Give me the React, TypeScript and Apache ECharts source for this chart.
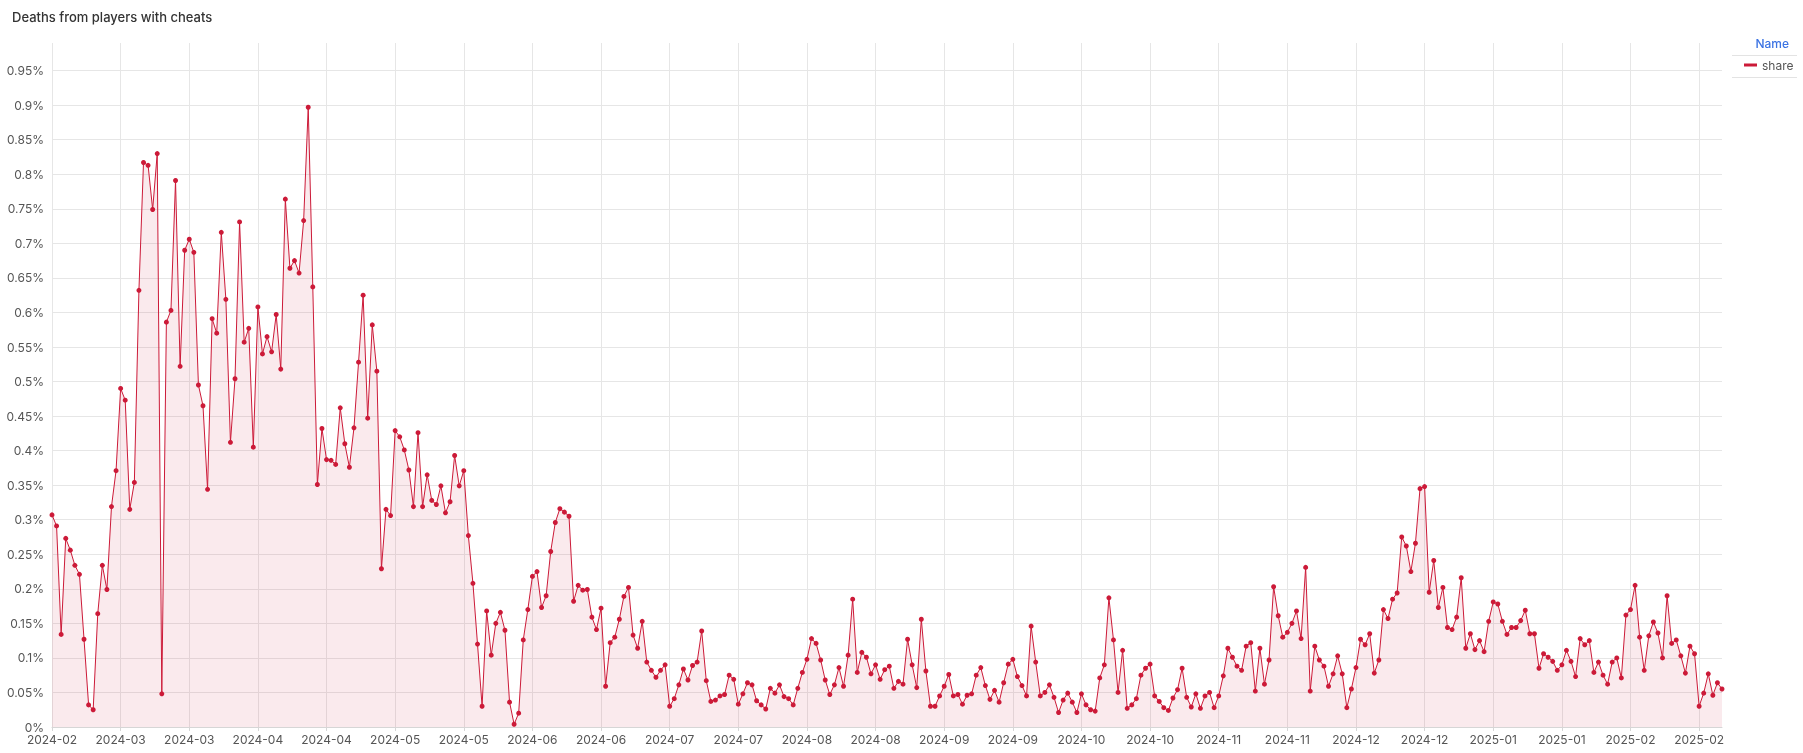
import React, { useEffect, useRef } from "react";
import * as echarts from "echarts";

const TITLE = "Deaths from players with cheats";
const SERIES_NAME = "share";
const LEGEND_HEADER = "Name";
const START_DATE = "2024-02-24";

// daily share (%) of deaths caused by players with cheats
const share: number[] = [
  0.307, 0.291, 0.134, 0.273, 0.256, 0.234, 0.221, 0.127, 0.032, 0.025,
  0.164, 0.234, 0.199, 0.319, 0.371, 0.490, 0.473, 0.315, 0.354, 0.632,
  0.817, 0.813, 0.749, 0.830, 0.048, 0.586, 0.603, 0.791, 0.522, 0.690,
  0.706, 0.687, 0.495, 0.465, 0.344, 0.591, 0.570, 0.716, 0.619, 0.412,
  0.504, 0.731, 0.557, 0.577, 0.405, 0.608, 0.540, 0.565, 0.543, 0.597,
  0.518, 0.764, 0.664, 0.675, 0.657, 0.733, 0.897, 0.637, 0.351, 0.432,
  0.387, 0.386, 0.380, 0.462, 0.410, 0.376, 0.433, 0.528, 0.625, 0.447,
  0.582, 0.515, 0.229, 0.315, 0.306, 0.429, 0.420, 0.401, 0.372, 0.319,
  0.426, 0.319, 0.365, 0.328, 0.322, 0.349, 0.310, 0.326, 0.393, 0.349,
  0.371, 0.277, 0.208, 0.120, 0.030, 0.168, 0.104, 0.150, 0.166, 0.140,
  0.036, 0.004, 0.020, 0.126, 0.170, 0.218, 0.225, 0.173, 0.190, 0.254,
  0.296, 0.316, 0.311, 0.305, 0.182, 0.205, 0.198, 0.199, 0.159, 0.141,
  0.172, 0.059, 0.122, 0.130, 0.156, 0.189, 0.202, 0.133, 0.114, 0.153,
  0.094, 0.082, 0.072, 0.082, 0.090, 0.030, 0.041, 0.061, 0.084, 0.068,
  0.089, 0.094, 0.139, 0.067, 0.037, 0.039, 0.045, 0.047, 0.075, 0.069,
  0.033, 0.048, 0.064, 0.061, 0.038, 0.032, 0.026, 0.056, 0.049, 0.061,
  0.044, 0.041, 0.032, 0.056, 0.079, 0.098, 0.128, 0.121, 0.097, 0.068,
  0.047, 0.061, 0.086, 0.059, 0.104, 0.185, 0.079, 0.108, 0.101, 0.077,
  0.090, 0.069, 0.083, 0.088, 0.056, 0.066, 0.062, 0.127, 0.090, 0.057,
  0.156, 0.081, 0.030, 0.030, 0.045, 0.059, 0.076, 0.045, 0.047, 0.033,
  0.046, 0.048, 0.075, 0.086, 0.060, 0.040, 0.053, 0.036, 0.064, 0.091,
  0.098, 0.073, 0.060, 0.045, 0.146, 0.094, 0.045, 0.050, 0.061, 0.043,
  0.021, 0.039, 0.049, 0.036, 0.021, 0.048, 0.032, 0.025, 0.023, 0.071,
  0.090, 0.187, 0.126, 0.050, 0.111, 0.027, 0.032, 0.041, 0.075, 0.085,
  0.091, 0.045, 0.037, 0.028, 0.024, 0.042, 0.054, 0.085, 0.043, 0.029,
  0.048, 0.027, 0.045, 0.050, 0.028, 0.045, 0.074, 0.114, 0.101, 0.088,
  0.082, 0.117, 0.122, 0.052, 0.114, 0.062, 0.097, 0.203, 0.161, 0.130,
  0.137, 0.150, 0.168, 0.128, 0.231, 0.052, 0.117, 0.097, 0.088, 0.059,
  0.077, 0.103, 0.077, 0.028, 0.055, 0.086, 0.127, 0.119, 0.135, 0.078,
  0.097, 0.170, 0.157, 0.185, 0.194, 0.275, 0.262, 0.225, 0.266, 0.345,
  0.348, 0.195, 0.241, 0.173, 0.202, 0.144, 0.141, 0.159, 0.216, 0.114,
  0.135, 0.112, 0.125, 0.109, 0.153, 0.181, 0.178, 0.153, 0.134, 0.144,
  0.144, 0.154, 0.169, 0.135, 0.135, 0.085, 0.106, 0.101, 0.095, 0.082,
  0.090, 0.111, 0.095, 0.073, 0.128, 0.119, 0.125, 0.079, 0.094, 0.075,
  0.062, 0.094, 0.100, 0.071, 0.162, 0.170, 0.205, 0.130, 0.082, 0.132,
  0.152, 0.136, 0.100, 0.190, 0.121, 0.126, 0.103, 0.078, 0.117, 0.106,
  0.030, 0.049, 0.077, 0.046, 0.064, 0.055,
];

// one category per day, starting at START_DATE
const dates: string[] = share.map((_, i) => {
  const d = new Date(START_DATE + "T00:00:00Z");
  d.setUTCDate(d.getUTCDate() + i);
  return d.toISOString().slice(0, 10);
});

const Y_MIN = 0;
const Y_MAX = 0.99;
const Y_STEP = 0.05;
const X_LABEL_EVERY = 15;

const LINE_COLOR = "#cc1a38";
const AREA_COLOR = "rgba(204, 26, 56, 0.13)";
const GRID_COLOR = "#e6e6e6";
const FONT = "Inter, 'Noto Sans', sans-serif";

export default function App() {
  const ref = useRef<HTMLDivElement>(null);

  useEffect(() => {
    if (!ref.current) return;
    const chart = echarts.init(ref.current, undefined, { renderer: "svg" });
    chart.setOption({
      animation: false,
      textStyle: { fontFamily: FONT },
      title: {
        text: TITLE,
        left: 7,
        top: 5,
        textStyle: { fontSize: 13, fontWeight: 500, color: "#333", fontFamily: FONT },
      },
      grid: { left: 52, right: 81, top: 43, bottom: 26 },
      xAxis: {
        type: "category",
        data: dates,
        boundaryGap: false,
        axisLine: { lineStyle: { color: "#d6d6d6" } },
        axisTick: {
          show: true,
          interval: X_LABEL_EVERY - 1,
          length: 4,
          lineStyle: { color: "#d6d6d6" },
        },
        axisLabel: {
          interval: X_LABEL_EVERY - 1,
          formatter: (v: string) => v.slice(0, 7),
          color: "#555",
          fontSize: 12,
          margin: 6,
          fontFamily: FONT,
        },
        splitLine: {
          show: true,
          interval: X_LABEL_EVERY - 1,
          lineStyle: { color: GRID_COLOR, width: 1 },
        },
      },
      yAxis: {
        type: "value",
        min: Y_MIN,
        max: Y_MAX,
        interval: Y_STEP,
        axisLine: { show: false },
        axisTick: { show: false },
        axisLabel: {
          showMaxLabel: false,
          formatter: (v: number) => `${parseFloat(v.toFixed(2))}%`,
          color: "#555",
          fontSize: 12,
          margin: 8,
          fontFamily: FONT,
        },
        splitLine: {
          show: true,
          showMaxLine: false,
          lineStyle: { color: GRID_COLOR, width: 1 },
        },
      },
      legend: {
        data: [SERIES_NAME],
        left: 1739,
        top: 54,
        icon: "rect",
        itemWidth: 13,
        itemHeight: 3,
        textStyle: { color: "#555", fontSize: 12, fontFamily: FONT },
      },
      graphic: [
        {
          type: "text",
          x: 1789,
          y: 43,
          style: {
            text: LEGEND_HEADER,
            align: "right",
            verticalAlign: "middle",
            fill: "#3b73e3",
            fontSize: 12,
            fontWeight: 500,
            fontFamily: FONT,
          },
        },
        {
          type: "line",
          shape: { x1: 1732, y1: 55.5, x2: 1797, y2: 55.5 },
          style: { stroke: "#e3e3e3", lineWidth: 1 },
        },
        {
          type: "line",
          shape: { x1: 1732, y1: 77.5, x2: 1797, y2: 77.5 },
          style: { stroke: "#e3e3e3", lineWidth: 1 },
        },
      ],
      series: [
        {
          type: "line",
          name: SERIES_NAME,
          data: share,
          symbol: "circle",
          symbolSize: 5,
          showSymbol: true,
          showAllSymbol: true,
          lineStyle: { width: 1, color: LINE_COLOR },
          itemStyle: { color: LINE_COLOR },
          areaStyle: { color: AREA_COLOR },
        },
      ],
    });
    return () => chart.dispose();
  }, []);

  return (
    <div
      ref={ref}
      style={{ position: "fixed", left: 0, top: 0, width: 1803, height: 753 }}
    />
  );
}
